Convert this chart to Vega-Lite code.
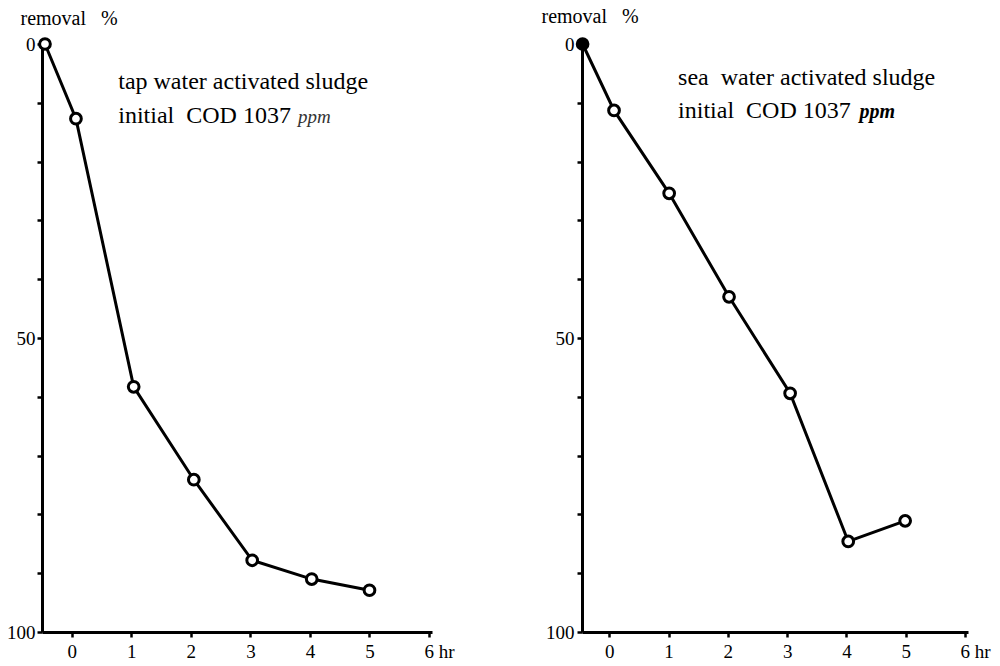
{
  "$schema": "https://vega.github.io/schema/vega-lite/v6.json",
  "background": "white",
  "padding": {"left": 6, "top": 6, "right": 5, "bottom": 5},
  "spacing": 150,
  "bounds": "flush",
  "config": {
    "view": {"stroke": null},
    "font": "Liberation Serif",
    "axis": {
      "labelFont": "Liberation Serif",
      "titleFont": "Liberation Serif",
      "labelFontSize": 19,
      "labelColor": "black",
      "domainColor": "black",
      "domainWidth": 3,
      "ticks": true,
      "tickColor": "black",
      "tickWidth": 2.5,
      "tickSize": 5,
      "grid": false,
      "titleFontWeight": "normal",
      "titleColor": "black",
      "titleFontSize": 20
    }
  },
  "datasets": {
    "left": [
      {"t": -0.45, "removal": 0},
      {"t": 0.07, "removal": 12.7},
      {"t": 1.04, "removal": 58.3},
      {"t": 2.05, "removal": 74.1},
      {"t": 3.03, "removal": 87.8},
      {"t": 4.03, "removal": 91.0},
      {"t": 5.0, "removal": 92.9}
    ],
    "right": [
      {"t": -0.45, "removal": 0},
      {"t": 0.08, "removal": 11.3},
      {"t": 1.01, "removal": 25.4},
      {"t": 2.02, "removal": 43.0},
      {"t": 3.05, "removal": 59.4},
      {"t": 4.03, "removal": 84.6},
      {"t": 4.99, "removal": 81.1}
    ],
    "leftText": [
      {"t": 0.78, "removal": 7.6, "label": "tap water activated sludge"},
      {"t": 0.78, "removal": 13.4, "label": "initial\u00a0 COD 1037"}
    ],
    "leftPpm": [{"t": 3.8, "removal": 13.4, "label": "ppm"}],
    "rightText": [
      {"t": 1.16, "removal": 7.0, "label": "sea\u00a0 water activated sludge"},
      {"t": 1.16, "removal": 12.6, "label": "initial\u00a0 COD 1037"}
    ],
    "rightPpm": [{"t": 4.22, "removal": 12.6, "label": "ppm"}]
  },
  "hconcat": [
    {
      "width": 390,
      "height": 588,
      "encoding": {
        "x": {
          "field": "t", "type": "quantitative",
          "scale": {"domain": [-0.5, 6.05], "nice": false, "zero": false},
          "axis": {
            "values": [0, 1, 2, 3, 4, 5, 6],
            "labelPadding": 5,
            "title": null,
            "labelFlush": false,
            "labelOverlap": false,
            "labelExpr": "datum.value == 6 ? '6 hr' : datum.label",
            "labelAlign": {"condition": {"test": "datum.value == 6", "value": "left"}, "value": "center"},
            "labelOffset": {"condition": {"test": "datum.value == 6", "value": -5}, "value": 0}
          }
        },
        "y": {
          "field": "removal", "type": "quantitative",
          "scale": {"domain": [0, 100], "reverse": true, "nice": false},
          "axis": {
            "values": [0, 10, 20, 30, 40, 50, 60, 70, 80, 90, 100],
            "labelExpr": "datum.value % 50 == 0 ? datum.label : ''",
            "labelPadding": 2,
            "labelFlush": false,
            "labelOverlap": false,
            "title": "removal\u00a0\u00a0\u00a0%",
            "titleAngle": 0,
            "titleAlign": "left",
            "titleBaseline": "alphabetic",
            "titleX": -22,
            "titleY": -20
          }
        }
      },
      "layer": [
        {"data": {"name": "left"}, "mark": {"type": "line", "color": "black", "strokeWidth": 3}},
        {"data": {"name": "left"}, "mark": {"type": "point", "shape": "circle", "filled": true, "fill": "white", "stroke": "black", "strokeWidth": 3, "size": 115, "opacity": 1}},
        {"data": {"name": "leftText"}, "mark": {"type": "text", "align": "left", "baseline": "alphabetic", "font": "Liberation Serif", "fontSize": 24, "color": "black"}, "encoding": {"text": {"field": "label"}}},
        {"data": {"name": "leftPpm"}, "mark": {"type": "text", "align": "left", "baseline": "alphabetic", "font": "Liberation Serif", "fontSize": 19, "fontStyle": "italic", "color": "#333"}, "encoding": {"text": {"field": "label"}}}
      ]
    },
    {
      "width": 386,
      "height": 588,
      "encoding": {
        "x": {
          "field": "t", "type": "quantitative",
          "scale": {"domain": [-0.46, 6.05], "nice": false, "zero": false},
          "axis": {
            "values": [0, 1, 2, 3, 4, 5, 6],
            "labelPadding": 5,
            "title": null,
            "labelFlush": false,
            "labelOverlap": false,
            "labelExpr": "datum.value == 6 ? '6 hr' : datum.label",
            "labelAlign": {"condition": {"test": "datum.value == 6", "value": "left"}, "value": "center"},
            "labelOffset": {"condition": {"test": "datum.value == 6", "value": -5}, "value": 0}
          }
        },
        "y": {
          "field": "removal", "type": "quantitative",
          "scale": {"domain": [0, 100], "reverse": true, "nice": false},
          "axis": {
            "values": [0, 10, 20, 30, 40, 50, 60, 70, 80, 90, 100],
            "labelExpr": "datum.value % 50 == 0 ? datum.label : ''",
            "labelPadding": 3,
            "labelFlush": false,
            "labelOverlap": false,
            "title": "removal\u00a0\u00a0\u00a0%",
            "titleAngle": 0,
            "titleAlign": "left",
            "titleBaseline": "alphabetic",
            "titleX": -41,
            "titleY": -22
          }
        }
      },
      "layer": [
        {"data": {"name": "right"}, "mark": {"type": "line", "color": "black", "strokeWidth": 3}},
        {"data": {"name": "right"}, "mark": {"type": "point", "shape": "circle", "filled": true, "stroke": "black", "strokeWidth": 3, "size": 115, "opacity": 1},
         "encoding": {"fill": {"condition": {"test": "datum.t < 0", "value": "black"}, "value": "white"}}},
        {"data": {"name": "rightText"}, "mark": {"type": "text", "align": "left", "baseline": "alphabetic", "font": "Liberation Serif", "fontSize": 24, "color": "black"}, "encoding": {"text": {"field": "label"}}},
        {"data": {"name": "rightPpm"}, "mark": {"type": "text", "align": "left", "baseline": "alphabetic", "font": "Liberation Serif", "fontSize": 20, "fontStyle": "italic", "fontWeight": "bold", "color": "black"}, "encoding": {"text": {"field": "label"}}}
      ]
    }
  ]
}
